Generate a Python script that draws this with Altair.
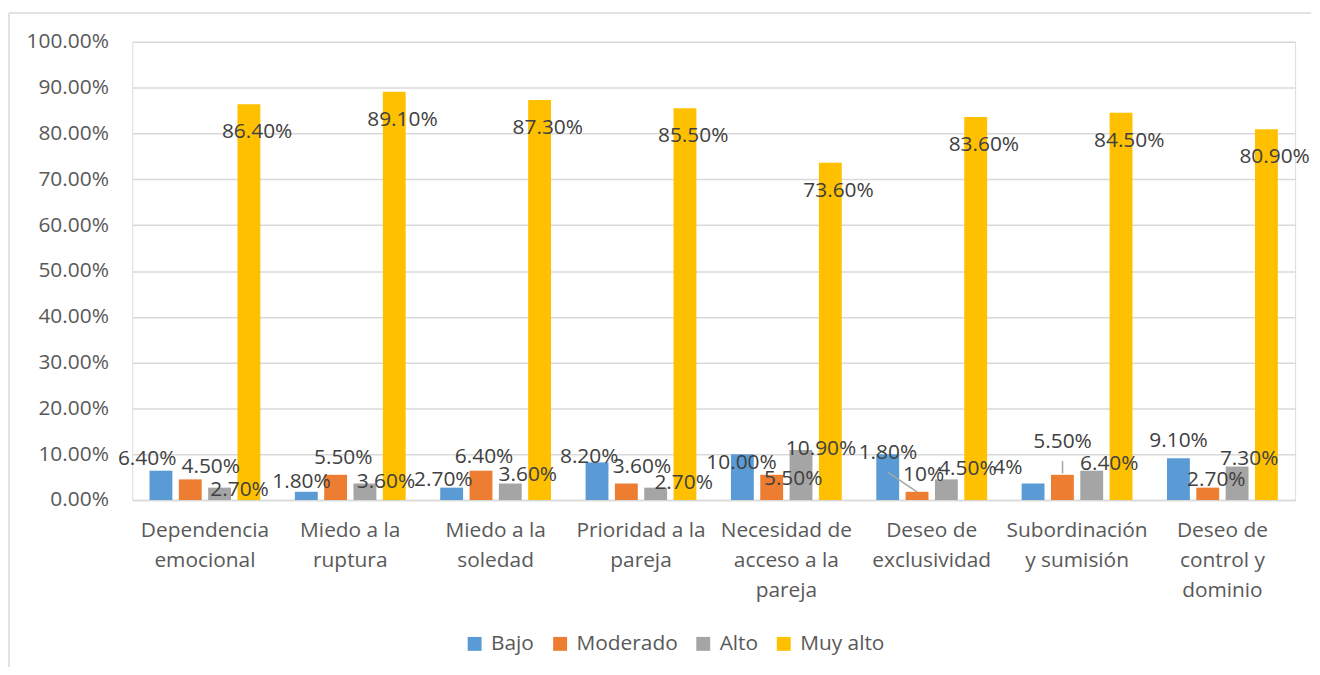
import altair as alt
import pandas as pd

categories = ["Dependencia\nemocional", "Miedo a la\nruptura", "Miedo a la\nsoledad",
              "Prioridad a la\npareja", "Necesidad de\nacceso a la\npareja",
              "Deseo de\nexclusividad", "Subordinación\ny sumisión", "Deseo de\ncontrol y\ndominio"]
series = ["Bajo", "Moderado", "Alto", "Muy alto"]
colors = ["#5B9BD5", "#ED7D31", "#A5A5A5", "#FFC000"]

bajo = [6.4, 1.8, 2.7, 8.2, 10.0, 10.0, 3.6, 9.1]
moderado = [4.5, 5.5, 6.4, 3.6, 5.5, 1.8, 5.5, 2.7]
alto = [2.7, 3.6, 3.6, 2.7, 10.9, 4.5, 6.4, 7.3]
muy_alto = [86.4, 89.1, 87.3, 85.5, 73.6, 83.6, 84.5, 80.9]
muy_alto_labels = ["86.40%", "89.10%", "87.30%", "85.50%", "73.60%", "83.60%", "84.50%", "80.90%"]

# Data labels of the three small series, as they appear in the picture
small_label_text = [["6.40%", "4.50%", "2.70%"], ["1.80%", "5.50%", "3.60%"],
                    ["2.70%", "6.40%", "3.60%"], ["8.20%", "3.60%", "2.70%"],
                    ["10.00%", "5.50%", "10.90%"], ["1.80%", "10%", "4.50%"],
                    ["4%", "5.50%", "6.40%"], ["9.10%", "2.70%", "7.30%"]]
# label vertical position (in % units)
small_label_y = [[8.9, 7.2, 2.2], [4.0, 9.1, 4.0], [4.3, 9.3, 5.5], [9.4, 7.2, 3.7],
                 [8.0, 4.6, 11.1], [10.3, 5.4, 6.8], [7.0, 12.6, 7.8], [12.8, 4.3, 8.9]]
# label horizontal offset from category centre (px)
small_label_dx = [[-58.1, 5.9, 34.9], [-49.1, -7.1, 35.9], [-52.6, -11.6, 32.4], [-52.1, 0.9, 42.9],
                  [-45.1, 6.9, 34.9], [-44.1, -8.1, 35.9], [-69.6, -14.6, 32.4], [-44.1, -6.1, 26.9]]

# leader lines: (category index, dx1, y1, dx2, y2)
leaders = [(5, -44.4, 6.1, -14.4, 1.7), (6, -14.6, 8.5, -14.6, 5.8)]

rows = []
for i, c in enumerate(categories):
    for s, vals in zip(series, [bajo, moderado, alto, muy_alto]):
        rows.append({"cat": c, "series": s, "v": vals[i] / 100})
df = pd.DataFrame(rows)

df_ma = pd.DataFrame({"cat": categories, "series": ["Muy alto"] * 8,
                      "v": [m / 100 for m in muy_alto], "lab": muy_alto_labels})

lrows = []
for i, c in enumerate(categories):
    for j in range(3):
        lrows.append({"cat": c, "t": small_label_text[i][j], "yv": small_label_y[i][j] / 100,
                      "off": small_label_dx[i][j]})
df_lbl = pd.DataFrame(lrows)

lnrows = []
for k, (ci, d1, y1, d2, y2) in enumerate(leaders):
    lnrows.append({"id": k, "cat": categories[ci], "off": d1, "yv": y1 / 100})
    lnrows.append({"id": k, "cat": categories[ci], "off": d2, "yv": y2 / 100})
df_ln = pd.DataFrame(lnrows)

FONT = "Open Sans"
FS = 21
W, H = 1170, 461
half = W / len(categories) / 2

xenc = alt.X("cat:N", sort=categories, scale=alt.Scale(paddingInner=0, paddingOuter=0),
             axis=alt.Axis(title=None, labelAngle=0, labelExpr="split(datum.label, '\\n')",
                           labelFontSize=FS, labelColor="#595959", labelLineHeight=30,
                           labelPadding=20, labelLimit=300, ticks=False, domain=True,
                           domainColor="#D9D9D9", domainWidth=1.5, grid=False, labelBaseline="top"))
yenc = alt.Y("v:Q", scale=alt.Scale(domain=[0, 1]),
             axis=alt.Axis(title=None, format=".2%", values=[i / 10 for i in range(11)],
                           labelFontSize=FS, labelColor="#595959", ticks=False, domain=False,
                           gridColor="#D9D9D9", gridWidth=1.5, labelPadding=24))
offn = alt.XOffset("series:N", sort=series,
                   scale=alt.Scale(domain=series, paddingInner=0.22, paddingOuter=0.589))
offq = alt.XOffset("off:Q", scale=alt.Scale(domain=[-half, half], range=[0, 2 * half],
                                            nice=False, zero=False))

one = pd.DataFrame({"k": [0]})
border_top = alt.Chart(one).mark_rule(color="#D9D9D9", strokeWidth=1.5).encode(
    x=alt.value(-124), x2=alt.value(1186), y=alt.value(-29))
border_left = alt.Chart(one).mark_rule(color="#D9D9D9", strokeWidth=1.5).encode(
    x=alt.value(-124), y=alt.value(-29), y2=alt.value(629))

bars = alt.Chart(df).mark_bar().encode(
    x=xenc, y=yenc, xOffset=offn,
    color=alt.Color("series:N", sort=series, scale=alt.Scale(domain=series, range=colors),
                    legend=alt.Legend(orient="none", legendX=334, legendY=595, direction="horizontal",
                                      title=None, symbolType="square", symbolSize=196,
                                      symbolStrokeWidth=0, labelFontSize=FS, labelColor="#595959",
                                      columnPadding=15, labelOffset=6)))

ma_text = alt.Chart(df_ma).mark_text(dy=28, fontSize=FS, color="#404040", baseline="middle").encode(
    x=alt.X("cat:N", sort=categories), y="v:Q", xOffset=offn, text="lab:N")

lbl = alt.Chart(df_lbl).mark_text(fontSize=FS, color="#404040", baseline="middle").encode(
    x=alt.X("cat:N", sort=categories), y="yv:Q", xOffset=offq, text="t:N")

lines = alt.Chart(df_ln).mark_line(color="#A5A5A5", strokeWidth=1.5).encode(
    x=alt.X("cat:N", sort=categories), y="yv:Q", xOffset=offq, detail="id:N")

chart = alt.layer(border_top, border_left, bars, lines, ma_text, lbl).resolve_scale(
    xOffset="independent"
).properties(
    width=W, height=H, padding={"left": 0, "top": 2, "right": 0, "bottom": 0}
).configure_view(stroke=None).configure(font=FONT)

chart.save("out.html", embed_options={"renderer": "svg", "actions": False})
